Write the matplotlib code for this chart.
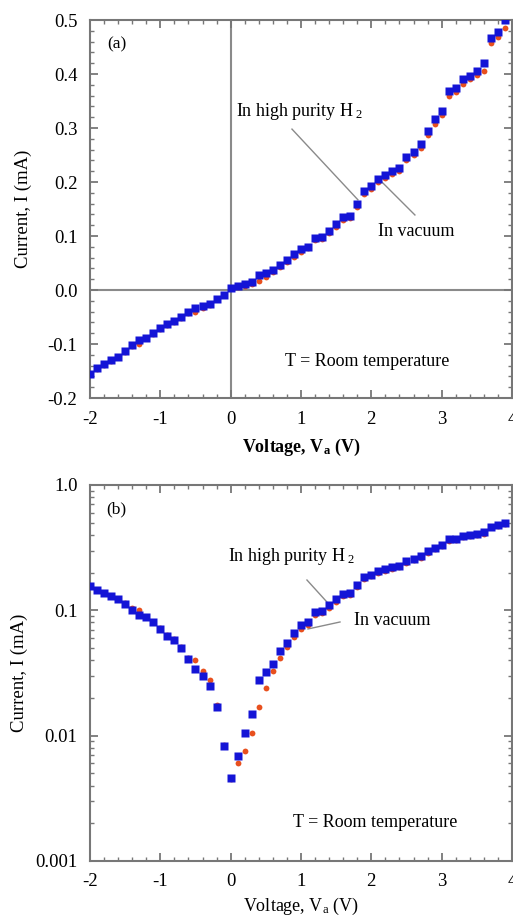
import numpy as np
import matplotlib
matplotlib.use("Agg")
import matplotlib.pyplot as plt
from matplotlib.ticker import MultipleLocator, FixedLocator, LogLocator, NullFormatter

plt.rcParams['font.family'] = ['Liberation Serif', 'DejaVu Serif']
plt.rcParams['mathtext.fontset'] = 'custom'
plt.rcParams['mathtext.rm'] = 'Liberation Serif'
plt.rcParams['mathtext.it'] = 'Liberation Serif:italic'
plt.rcParams['mathtext.bf'] = 'Liberation Serif:bold'

# voltage sweep (V)
voltage = [-2.0, -1.9, -1.8, -1.7, -1.6, -1.5, -1.4, -1.3, -1.2, -1.1,
           -1.0, -0.9, -0.8, -0.7, -0.6, -0.5, -0.4, -0.3, -0.2, -0.1,
           0.0, 0.1, 0.2, 0.3, 0.4, 0.5, 0.6, 0.7, 0.8, 0.9,
           1.0, 1.1, 1.2, 1.3, 1.4, 1.5, 1.6, 1.7, 1.8, 1.9,
           2.0, 2.1, 2.2, 2.3, 2.4, 2.5, 2.6, 2.7, 2.8, 2.9,
           3.0, 3.1, 3.2, 3.3, 3.4, 3.5, 3.6, 3.7, 3.8, 3.9]

# current in high purity H2 (mA)
current_h2 = [-0.155, -0.145, -0.137, -0.130, -0.124, -0.113, -0.101, -0.092, -0.088, -0.080,
              -0.071, -0.062, -0.058, -0.050, -0.041, -0.034, -0.030, -0.025, -0.017, -0.0083,
              0.0046, 0.0069, 0.0105, 0.015, 0.028, 0.032, 0.037, 0.047, 0.055, 0.066,
              0.076, 0.080, 0.097, 0.099, 0.110, 0.122, 0.136, 0.138, 0.160, 0.184,
              0.193, 0.206, 0.213, 0.220, 0.226, 0.247, 0.256, 0.270, 0.295, 0.316,
              0.331, 0.368, 0.374, 0.390, 0.397, 0.405, 0.420, 0.466, 0.477, 0.500]

# current in vacuum (mA)
current_vac = [-0.155, -0.146, -0.138, -0.131, -0.124, -0.114, -0.104, -0.100, -0.089, -0.081,
               -0.072, -0.064, -0.059, -0.051, -0.042, -0.040, -0.033, -0.028, -0.0175, -0.0085,
               0.0045, 0.0061, 0.0076, 0.0105, 0.017, 0.024, 0.033, 0.042, 0.051, 0.061,
               0.071, 0.077, 0.092, 0.095, 0.105, 0.117, 0.130, 0.133, 0.153, 0.177,
               0.188, 0.200, 0.207, 0.214, 0.220, 0.240, 0.250, 0.263, 0.287, 0.308,
               0.324, 0.360, 0.366, 0.382, 0.390, 0.398, 0.405, 0.458, 0.468, 0.486]

x_ticks = [-2, -1, 0, 1, 2, 3, 4]
x_labels = ["-2", "-1", "0", "1", "2", "3", "4"]
lin_ticks = [-0.2, -0.1, 0.0, 0.1, 0.2, 0.3, 0.4, 0.5]
lin_labels = ["-0.2", "-0.1", "0.0", "0.1", "0.2", "0.3", "0.4", "0.5"]
log_ticks = [0.001, 0.01, 0.1, 1.0]
log_labels = ["0.001", "0.01", "0.1", "1.0"]

BLUE = "#1414d6"
RED = "#e8501e"
GRAY = "#8a8a8a"


def style_axes(ax):
    for s in ax.spines.values():
        s.set_color("#777777")
        s.set_linewidth(1.5)
    ax.tick_params(which='both', direction='in', top=True, right=True,
                   colors="#777777", labelcolor="black", labelsize=13.5)
    ax.tick_params(which='major', length=6, width=1.3, pad=9)
    ax.tick_params(which='minor', length=3, width=1.0)
    ax.set_xlim(-2, 4)
    ax.xaxis.set_major_locator(FixedLocator(x_ticks))
    ax.xaxis.set_minor_locator(MultipleLocator(0.2))
    ax.set_xticklabels(x_labels)


def main():
    fig = plt.figure(figsize=(5.13, 9.18), dpi=100)
    ax1 = fig.add_axes([0.1754, 0.5664, 0.8226, 0.4118])
    ax2 = fig.add_axes([0.1754, 0.0621, 0.8226, 0.4096])

    # (a) linear scale
    style_axes(ax1)
    ax1.axvline(0, color=GRAY, lw=1.5, zorder=1)
    ax1.axhline(0, color=GRAY, lw=1.5, zorder=1)
    ax1.plot(voltage, current_vac, 'o', color=RED, ms=4.2, mec='none', zorder=3)
    ax1.plot(voltage, current_h2, 's', color=BLUE, ms=5.8, mec='none', zorder=4)
    ax1.set_ylim(-0.2, 0.5)
    ax1.yaxis.set_major_locator(FixedLocator(lin_ticks))
    ax1.yaxis.set_minor_locator(MultipleLocator(0.02))
    ax1.set_yticklabels(lin_labels)
    ax1.set_ylabel("Current, I (mA)", fontsize=13.5, labelpad=11)
    ax1.set_xlabel(r"Voltage, V$_{\mathbf{a}}$ (V)", fontsize=13, fontweight='bold', labelpad=7)

    ax1.text(-1.76, 0.454, "(a)", fontsize=12.5, va='center')
    ax1.text(0.076, 0.330, r"In high purity H$_{\ 2}$", fontsize=13, va='center')
    ax1.plot([0.872, 1.81], [0.298, 0.167], color=GRAY, lw=1, zorder=2)
    ax1.plot([2.12, 2.62], [0.204, 0.139], color=GRAY, lw=1, zorder=2)
    ax1.text(2.095, 0.109, "In vacuum", fontsize=13, va='center', zorder=5,
             bbox=dict(facecolor='white', edgecolor='none', pad=1))
    ax1.text(0.773, -0.133, "T = Room temperature", fontsize=13, va='center')

    # (b) log scale
    style_axes(ax2)
    ax2.set_yscale('log')
    ax2.plot(voltage, np.abs(current_vac), 'o', color=RED, ms=4.2, mec='none', zorder=3)
    ax2.plot(voltage, np.abs(current_h2), 's', color=BLUE, ms=5.8, mec='none', zorder=4)
    ax2.set_ylim(0.001, 1.0)
    ax2.yaxis.set_major_locator(FixedLocator(log_ticks))
    ax2.yaxis.set_minor_locator(LogLocator(base=10, subs=np.arange(2, 10)))
    ax2.yaxis.set_minor_formatter(NullFormatter())
    ax2.set_yticklabels(log_labels)
    ax2.set_ylabel("Current, I (mA)", fontsize=13.5, labelpad=5)
    ax2.set_xlabel(r"Voltage, V$_{\mathrm{a}}$ (V)", fontsize=13, labelpad=4)

    ax2.text(-1.77, 0.64, "(b)", fontsize=12.5, va='center')
    ax2.text(-0.04, 0.271, r"In high purity H$_{\ 2}$", fontsize=13, va='center')
    ax2.plot([1.085, 1.384], [0.1745, 0.114], color=GRAY, lw=1, zorder=2)
    ax2.plot([1.10, 1.555], [0.071, 0.0807], color=GRAY, lw=1, zorder=2)
    ax2.text(1.754, 0.0837, "In vacuum", fontsize=13, va='center', zorder=5)
    ax2.text(0.886, 0.00201, "T = Room temperature", fontsize=13, va='center')

    fig.savefig("out.png", dpi=100)


if __name__ == "__main__":
    main()
